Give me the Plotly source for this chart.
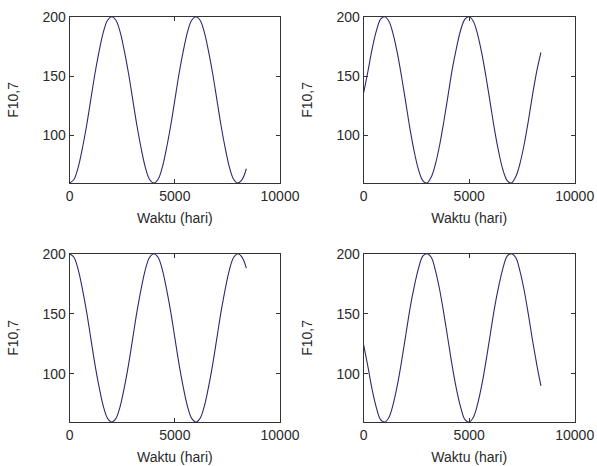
import plotly.graph_objects as go

# time (days), sampled every 200 days
waktu = [i * 200 for i in range(43)]

f107_a = [60, 63, 73, 89, 108, 130, 152, 171, 187, 197, 200, 197, 187, 171, 152, 130, 108, 89, 73, 63,
          60, 63, 73, 89, 108, 130, 152, 171, 187, 197, 200, 197, 187, 171, 152, 130, 108, 89, 73, 63,
          60, 63, 72]
f107_b = [136, 154, 173, 188, 198, 200, 196, 185, 169, 149, 127, 105, 86, 71, 62, 60, 65, 76, 92, 112,
          134, 156, 174, 189, 198, 200, 196, 185, 169, 149, 127, 105, 86, 71, 62, 60, 65, 76, 92, 112,
          134, 154, 170]
f107_c = [200, 197, 187, 171, 152, 130, 108, 89, 73, 63, 60, 63, 73, 89, 108, 130, 152, 171, 187, 197,
          200, 197, 187, 171, 152, 130, 108, 89, 73, 63, 60, 63, 73, 89, 108, 130, 152, 171, 187, 197,
          200, 197, 188]
f107_d = [124, 106, 87, 72, 62, 60, 64, 75, 91, 111, 133, 155, 173, 188, 198, 200, 197, 186, 170, 150,
          128, 106, 87, 72, 62, 60, 64, 75, 91, 111, 133, 155, 173, 188, 198, 200, 197, 186, 170, 150,
          128, 108, 90]

x_ticks = [0, 5000, 10000]
y_ticks = [100, 150, 200]

series = [f107_a, f107_b, f107_c, f107_d]

W, H = 597, 466
xdoms = [[69.7 / W, 280 / W], [363.7 / W, 574.7 / W]]
ydoms = [[1 - 183 / H, 1 - 16.7 / H], [1 - 422 / H, 1 - 253.7 / H]]

fig = go.Figure()
font = dict(family="Liberation Sans, Arial, sans-serif", size=14, color="#2a2a2a")

for i, ys in enumerate(series):
    r, c = divmod(i, 2)
    n = "" if i == 0 else str(i + 1)
    fig.add_trace(go.Scatter(x=waktu, y=ys, mode="lines", line=dict(color="#2a2a72", width=1.1, shape="spline"),
                             xaxis="x" + n, yaxis="y" + n, showlegend=False, hoverinfo="skip"))
    fig.layout["xaxis" + n] = dict(
        domain=xdoms[c], anchor="y" + n, range=[0, 10000], tickvals=x_ticks,
        ticktext=[str(v) for v in x_ticks], ticks="inside", ticklen=4, tickcolor="#333333",
        showline=True, linecolor="#333333", linewidth=1, mirror="ticks", showgrid=False, zeroline=False,
        title=dict(text="Waktu (hari)", font=font, standoff=10), tickfont=font, automargin=False,
    )
    fig.layout["yaxis" + n] = dict(
        domain=ydoms[r], anchor="x" + n, range=[60, 200], tickvals=y_ticks,
        ticktext=[str(v) for v in y_ticks], ticks="inside", ticklen=4, tickcolor="#333333",
        showline=True, linecolor="#333333", linewidth=1, mirror="ticks", showgrid=False, zeroline=False,
        title=dict(text="F10,7", font=font, standoff=20), tickfont=font, automargin=False,
    )

fig.update_layout(width=W, height=H, margin=dict(l=0, r=0, t=0, b=0),
                  paper_bgcolor="white", plot_bgcolor="white", font=font, hovermode=False)
fig.write_html("out.html", config={"displayModeBar": False, "staticPlot": True},
               post_script="document.body.style.margin='0';")
